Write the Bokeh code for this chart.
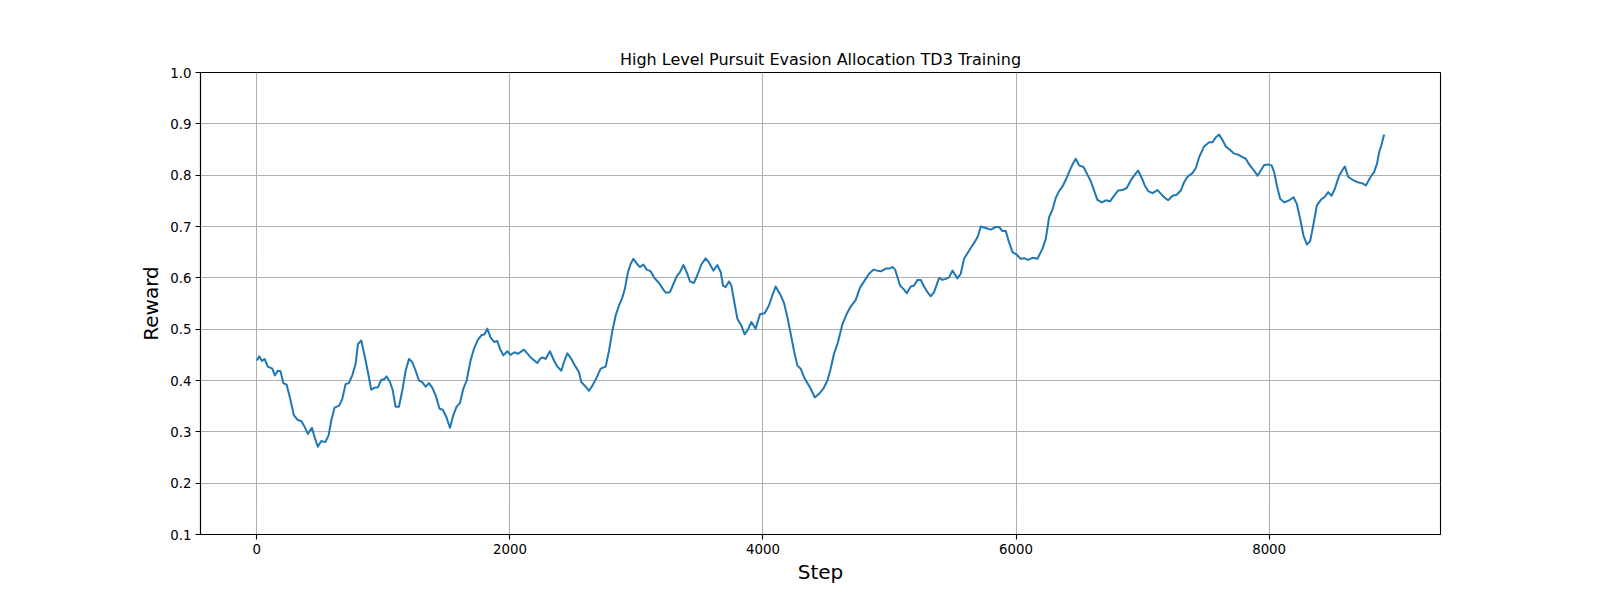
from bokeh.plotting import figure
from bokeh.models import Range1d, FixedTicker, PrintfTickFormatter, NumeralTickFormatter
from bokeh.embed import file_html
from bokeh.resources import INLINE

title_text = "High Level Pursuit Evasion Allocation TD3 Training"
x_label = "Step"
y_label = "Reward"
x_ticks = [0, 2000, 4000, 6000, 8000]
y_ticks = [0.1, 0.2, 0.3, 0.4, 0.5, 0.6, 0.7, 0.8, 0.9, 1.0]

steps = [
    0, 19, 40, 61, 87, 122, 142, 166, 187, 209, 235, 261, 293, 324, 351, 377, 403, 435, 456, 482,
    509, 541, 567, 588, 614, 651, 675, 701, 727, 754, 780, 799, 825, 851, 878, 904, 930, 957, 983,
    1009, 1025, 1052, 1073, 1096, 1123, 1149, 1176, 1202, 1228, 1255, 1281, 1307, 1334, 1360, 1386,
    1413, 1444, 1470, 1497, 1526, 1552, 1579, 1605, 1632, 1658, 1689, 1716, 1747, 1774, 1800, 1821,
    1847, 1874, 1900, 1921, 1948, 1979, 2005, 2037, 2063, 2111, 2164, 2217, 2237,
    2256, 2282, 2316, 2348, 2375, 2406, 2427, 2454, 2485, 2519, 2546, 2564, 2598, 2625, 2652, 2686,
    2717, 2757, 2783, 2810, 2836, 2862, 2889, 2909, 2933, 2954, 2975, 3002, 3028, 3055, 3081, 3112,
    3138, 3178, 3213, 3231, 3265, 3292, 3318, 3344, 3371, 3397, 3423, 3454, 3481, 3513, 3547, 3573,
    3608, 3639, 3666, 3684, 3705, 3731, 3750, 3776, 3798, 3829, 3855, 3881, 3908, 3942, 3976, 4013,
    4047, 4074, 4100,
    4140, 4166, 4193, 4219, 4245, 4272, 4298, 4325, 4351, 4377, 4409, 4443, 4477, 4509, 4535, 4561,
    4593, 4628, 4662, 4693, 4733, 4767, 4804, 4838, 4873, 4904, 4936, 4970, 4996, 5023, 5044, 5063,
    5083, 5115, 5136, 5168, 5194, 5221, 5247, 5273, 5300, 5326, 5352, 5392, 5418, 5444, 5471, 5497,
    5537, 5563, 5589, 5616, 5647, 5681, 5700, 5721, 5761, 5800, 5840, 5866, 5893, 5919, 5945, 5972,
    6006, 6037, 6069, 6095, 6130, 6169,
    6209, 6235, 6261, 6288, 6314, 6340, 6367, 6393, 6419, 6446, 6472, 6498, 6533, 6564, 6591, 6617,
    6643, 6678, 6709, 6743, 6775, 6806, 6841, 6875, 6907, 6933, 6964, 6991, 7017, 7044, 7078, 7118,
    7144, 7170, 7202, 7236, 7270, 7302, 7328, 7355, 7394, 7421, 7447, 7486, 7526, 7553, 7579, 7605,
    7632, 7658, 7692, 7723, 7755, 7790, 7816, 7842, 7881, 7908, 7934, 7961, 7992, 8019, 8040, 8061,
    8087, 8119, 8158, 8193, 8219, 8245, 8272, 8298, 8324, 8351, 8377, 8409, 8440, 8467, 8493, 8519,
    8553, 8580, 8598, 8625, 8660, 8700, 8739,
    8751, 8765, 8800, 8830, 8852, 8870, 8889, 8909,
]

rewards = [
    0.439, 0.447, 0.438, 0.442, 0.427, 0.423, 0.410, 0.419, 0.418, 0.395, 0.392, 0.367, 0.332, 0.323,
    0.321, 0.310, 0.296, 0.308, 0.290, 0.271, 0.282, 0.280, 0.293, 0.322, 0.347, 0.351, 0.364, 0.393,
    0.395, 0.410, 0.432, 0.471, 0.478, 0.449, 0.416, 0.382, 0.386, 0.387, 0.401, 0.403, 0.408, 0.397,
    0.382, 0.349, 0.349, 0.380, 0.419, 0.442, 0.436, 0.419, 0.400, 0.397, 0.388, 0.395, 0.386, 0.371,
    0.345, 0.343, 0.329, 0.308, 0.332, 0.349, 0.356, 0.384, 0.400, 0.439, 0.462, 0.479, 0.488, 0.490,
    0.501, 0.484, 0.475, 0.477, 0.462, 0.449, 0.457, 0.450, 0.455, 0.452, 0.460, 0.445, 0.434, 0.442,
    0.445, 0.442, 0.457, 0.439, 0.427, 0.419, 0.436, 0.453, 0.442, 0.427, 0.416, 0.397, 0.388, 0.380,
    0.390, 0.406, 0.423, 0.427, 0.458, 0.497, 0.527, 0.546, 0.562, 0.579, 0.611, 0.627, 0.637, 0.628,
    0.621, 0.626, 0.616, 0.613, 0.601, 0.590, 0.577, 0.571, 0.572, 0.588, 0.603, 0.611, 0.625, 0.611,
    0.593, 0.590, 0.605, 0.626, 0.638, 0.630, 0.614, 0.625, 0.611, 0.585, 0.582, 0.593, 0.585, 0.549,
    0.520, 0.507, 0.490, 0.499, 0.514, 0.501, 0.529, 0.531, 0.546, 0.566, 0.583,
    0.566, 0.551, 0.523, 0.491, 0.458, 0.429, 0.423, 0.406, 0.395, 0.384, 0.367, 0.374, 0.384, 0.400,
    0.423, 0.452, 0.475, 0.510, 0.530, 0.544, 0.557, 0.581, 0.595, 0.608, 0.616, 0.614, 0.613, 0.618,
    0.618, 0.621, 0.616, 0.601, 0.585, 0.577, 0.570, 0.583, 0.585, 0.596, 0.596, 0.583, 0.572, 0.564,
    0.572, 0.600, 0.596, 0.598, 0.601, 0.614, 0.599, 0.608, 0.637, 0.648, 0.660, 0.673, 0.682, 0.700,
    0.697, 0.694, 0.699, 0.699, 0.691, 0.691, 0.669, 0.650, 0.645, 0.637, 0.638, 0.635, 0.639, 0.637,
    0.657, 0.676, 0.718, 0.733, 0.756, 0.769, 0.778, 0.791, 0.806, 0.821, 0.832, 0.819, 0.816, 0.801,
    0.788, 0.770, 0.752, 0.747, 0.751, 0.749, 0.760, 0.770, 0.771, 0.775, 0.790, 0.799, 0.809, 0.796,
    0.780, 0.769, 0.765, 0.771, 0.764, 0.757, 0.751, 0.760, 0.762, 0.770, 0.786, 0.797, 0.804, 0.814,
    0.835, 0.856, 0.864, 0.864, 0.874, 0.879, 0.868, 0.856, 0.849, 0.842, 0.840, 0.835, 0.832, 0.821,
    0.809, 0.799, 0.809, 0.820, 0.821, 0.819, 0.806, 0.780, 0.754, 0.747, 0.751, 0.757, 0.744, 0.715,
    0.682, 0.665, 0.671, 0.705, 0.741, 0.752, 0.758, 0.767, 0.760, 0.773, 0.799, 0.810, 0.817, 0.797,
    0.791, 0.786, 0.784,
    0.782, 0.780, 0.796, 0.806, 0.822, 0.845, 0.860, 0.879,
]

FONT = "DejaVu Sans"

x_span = steps[-1] - steps[0]
p = figure(
    width=1592, height=592,
    min_border_left=200, min_border_right=152, min_border_top=72, min_border_bottom=58,
    x_range=Range1d(steps[0] - 0.05 * x_span, steps[-1] + 0.05 * x_span),
    y_range=Range1d(0.1, 1.0),
    output_backend="svg", toolbar_location=None,
    title=title_text,
)
p.background_fill_color = "white"
p.border_fill_color = "white"
p.outline_line_color = "black"
p.outline_line_width = 1.1

p.title.align = "center"
p.title.text_font = FONT
p.title.text_font_size = "16px"
p.title.text_font_style = "normal"
p.title.text_color = "black"
p.title.standoff = 8

p.line(steps, rewards, line_color="#1f77b4", line_width=2, line_join="round")

for ax in (p.xaxis[0], p.yaxis[0]):
    ax.axis_line_color = "black"
    ax.axis_line_width = 1.1
    ax.major_tick_line_color = "black"
    ax.major_tick_line_width = 1.1
    ax.major_tick_out = 5
    ax.major_tick_in = 0
    ax.minor_tick_line_color = None
    ax.major_label_text_font = FONT
    ax.major_label_text_font_size = "13.33px"
    ax.major_label_text_color = "black"
    ax.axis_label_text_font = FONT
    ax.axis_label_text_font_size = "20px"
    ax.axis_label_text_font_style = "normal"
    ax.axis_label_text_color = "black"
    ax.major_label_standoff = 4

p.xaxis[0].axis_label_standoff = 3
p.yaxis[0].axis_label_standoff = 4
p.xaxis[0].axis_label = x_label
p.yaxis[0].axis_label = y_label
p.xaxis[0].ticker = FixedTicker(ticks=x_ticks)
p.yaxis[0].ticker = FixedTicker(ticks=y_ticks)
p.xaxis[0].formatter = NumeralTickFormatter(format="0")
p.yaxis[0].formatter = PrintfTickFormatter(format="%.1f")

for g in (p.xgrid[0], p.ygrid[0]):
    g.grid_line_color = "#b0b0b0"
    g.grid_line_width = 1.1
p.xgrid[0].ticker = FixedTicker(ticks=x_ticks)
p.ygrid[0].ticker = FixedTicker(ticks=y_ticks)

open("out.html", "w").write(file_html(p, INLINE))
